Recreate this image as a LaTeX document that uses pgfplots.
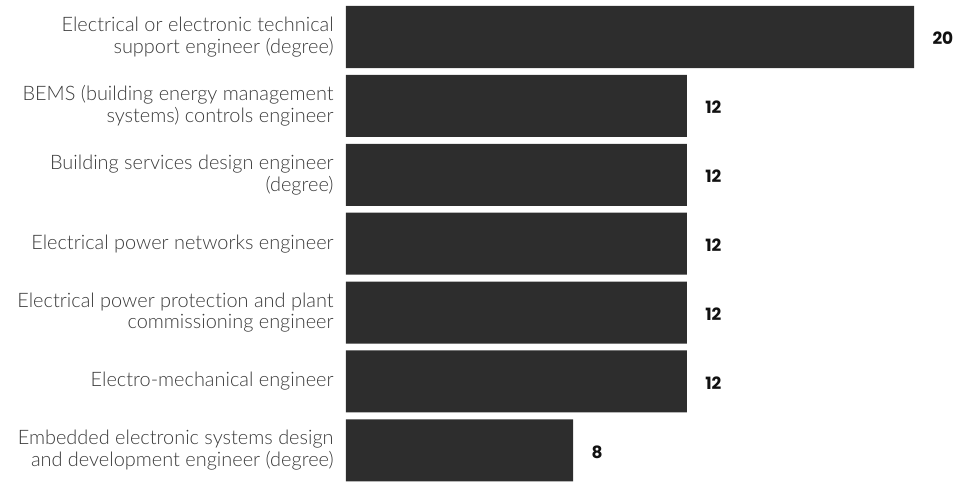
\documentclass[border=0pt]{standalone}
\usepackage{fontspec}
\usepackage{pgfplots}
\pgfplotsset{compat=1.18}
\usepackage{pgfplotstable}
\setmainfont{Poppins}
\newfontfamily\lightfont{Lato Light}[Ligatures=NoCommon]
\definecolor{barcol}{HTML}{2D2D2D}
\definecolor{labcol}{HTML}{3A3A3A}
\definecolor{valcol}{HTML}{111111}

\pgfplotstableread{
idx value
0 20
1 12
2 12
3 12
4 12
5 12
6 8
}\data

\begin{document}
\begin{tikzpicture}
\begin{axis}[
  xbar, scale only axis,
  width=568bp, height=475.4bp,
  xmin=0, xmax=20, ymin=-0.45, ymax=6.45,
  y dir=reverse,
  axis line style={draw=none},
  major tick style={draw=none},
  xtick=\empty,
  ytick={0,...,6},
  yticklabels={
    {Electrical or electronic technical\\support engineer (degree)},
    {BEMS (building energy management\\systems) controls engineer},
    {Building services design engineer\\(degree)},
    {Electrical power networks engineer},
    {Electrical power protection and plant\\commissioning engineer},
    {Electro-mechanical engineer},
    {Embedded electronic systems design\\and development engineer (degree)}},
  yticklabel style={font=\lightfont\fontsize{20}{21.7}\selectfont,
    text=labcol, align=right, inner sep=0pt, xshift=-8bp},
  bar width=0.9,
  nodes near coords,
  /pgf/number format/assume math mode=true,
  every node near coord/.append style={anchor=west, xshift=15bp, yshift=-1.5bp,
    font=\bfseries\fontsize{17}{19}\selectfont, text=valcol},
  clip=false,
]
\addplot[fill=barcol, draw=none] table[x=value, y=idx]{\data};
\coordinate (tl) at (axis cs:0,-0.45);
\coordinate (bl) at (axis cs:0,6.45);
\end{axis}
\pgfresetboundingbox
\path[use as bounding box] ([xshift=-346bp,yshift=6bp]tl) rectangle ([xshift=618bp]bl);
\end{tikzpicture}
\end{document}
